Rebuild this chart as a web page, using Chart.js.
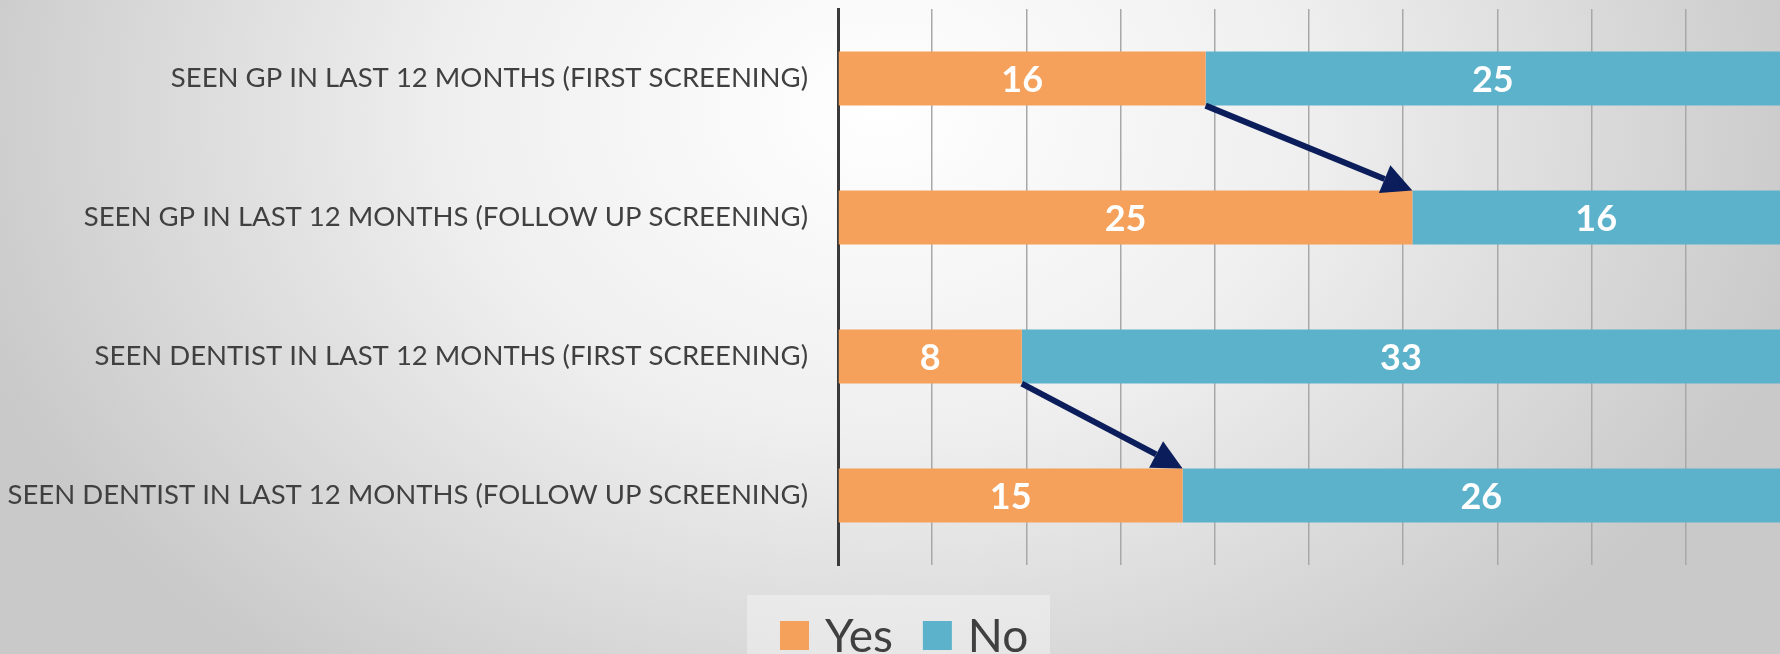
<!DOCTYPE html>
<html>
<head>
<meta charset="utf-8">
<script src="https://cdn.jsdelivr.net/npm/chart.js@4.4.0/dist/chart.umd.min.js"></script>
<style>
  html, body {
    margin: 0;
    padding: 0;
    width: 1780px;
    height: 654px;
    overflow: hidden;
    background: radial-gradient(ellipse 950px 720px at 880px 110px, #ffffff 0%, #efefef 45%, #c9c9c9 100%);
  }
  canvas { display: block; }
</style>
</head>
<body>
<canvas id="chart" width="1780" height="654"></canvas>
<script>
// Categories and counts
const categories = [
    'SEEN GP IN LAST 12 MONTHS (FIRST SCREENING)',
    'SEEN GP IN LAST 12 MONTHS (FOLLOW UP SCREENING)',
    'SEEN DENTIST IN LAST 12 MONTHS (FIRST SCREENING)',
    'SEEN DENTIST IN LAST 12 MONTHS (FOLLOW UP SCREENING)'
];
const yesValues = [16, 25, 8, 15];
const noValues = [25, 16, 33, 26];
const seriesNames = ['Yes', 'No'];

// pairs of rows joined by an arrow (from row -> to row)
const arrowPairs = [[0, 1], [2, 3]];

const ORANGE = '#F5A15B';
const BLUE = '#5CB2CA';
const TEXT = '#404040';
const FONT = 'Lato, "Open Sans", sans-serif';

const total = yesValues[0] + noValues[0];

// white numbers in the middle of every segment
const valueLabels = {
    id: 'valueLabels',
    afterDatasetsDraw(chart) {
        const ctx = chart.ctx;
        ctx.save();
        ctx.fillStyle = '#ffffff';
        ctx.font = 'bold 36px ' + FONT;
        ctx.textAlign = 'center';
        ctx.textBaseline = 'middle';
        chart.data.datasets.forEach(function(ds, di) {
            chart.getDatasetMeta(di).data.forEach(function(bar, i) {
                const p = bar.getCenterPoint();
                ctx.fillText(String(ds.data[i]), p.x, p.y + 2);
            });
        });
        ctx.restore();
    }
};

// navy arrows from the end of one "Yes" bar to the next
const arrows = {
    id: 'arrows',
    afterDatasetsDraw(chart) {
        const ctx = chart.ctx;
        const meta = chart.getDatasetMeta(0);
        ctx.save();
        ctx.strokeStyle = '#0B1E5B';
        ctx.fillStyle = '#0B1E5B';
        ctx.lineWidth = 6;
        arrowPairs.forEach(function(pair) {
            const a = meta.data[pair[0]];
            const b = meta.data[pair[1]];
            const x1 = a.x, y1 = a.y + a.height / 2;
            const x2 = b.x, y2 = b.y - b.height / 2;
            const ang = Math.atan2(y2 - y1, x2 - x1);
            const head = 30;
            const bx = x2 - head * Math.cos(ang);
            const by = y2 - head * Math.sin(ang);
            ctx.beginPath();
            ctx.moveTo(x1, y1);
            ctx.lineTo(bx, by);
            ctx.stroke();
            ctx.beginPath();
            ctx.moveTo(x2, y2);
            ctx.lineTo(bx + 15 * Math.cos(ang + Math.PI / 2), by + 15 * Math.sin(ang + Math.PI / 2));
            ctx.lineTo(bx + 15 * Math.cos(ang - Math.PI / 2), by + 15 * Math.sin(ang - Math.PI / 2));
            ctx.closePath();
            ctx.fill();
        });
        ctx.restore();
    }
};

// legend drawn under the plot, with a pale box behind it
const bottomLegend = {
    id: 'bottomLegend',
    afterDraw(chart) {
        const ctx = chart.ctx;
        ctx.save();
        ctx.fillStyle = 'rgba(255,255,255,0.35)';
        ctx.fillRect(747, 595, 303, 60);
        ctx.font = '46px ' + FONT;
        ctx.textBaseline = 'alphabetic';
        let x = 780;
        chart.data.datasets.forEach(function(ds) {
            ctx.fillStyle = ds.backgroundColor;
            ctx.fillRect(x, 621, 29, 29);
            x += 29 + 16;
            ctx.fillStyle = TEXT;
            ctx.fillText(ds.label, x, 652);
            x += ctx.measureText(ds.label).width + 30;
        });
        ctx.restore();
    }
};

const ctx = document.getElementById('chart').getContext('2d');
new Chart(ctx, {
    type: 'bar',
    data: {
        labels: categories,
        datasets: [
            { label: seriesNames[0], data: yesValues, backgroundColor: ORANGE },
            { label: seriesNames[1], data: noValues, backgroundColor: BLUE }
        ]
    },
    options: {
        indexAxis: 'y',
        responsive: false,
        animation: false,
        devicePixelRatio: 1,
        barPercentage: 0.39,
        categoryPercentage: 1,
        layout: { padding: { top: 9, right: 0, bottom: 89, left: 0 } },
        plugins: {
            legend: { display: false },
            tooltip: { enabled: false }
        },
        scales: {
            x: {
                stacked: true,
                min: 0,
                max: total,
                afterBuildTicks(axis) {
                    const t = [];
                    for (let i = 0; i <= 10; i++) t.push({ value: total * i / 10 });
                    axis.ticks = t;
                },
                ticks: { display: false },
                border: { display: false },
                grid: {
                    drawTicks: false,
                    lineWidth: 1.5,
                    color: function(c) {
                        return (c.index === 0 || c.index === 10) ? 'rgba(0,0,0,0)' : '#a8a8a8';
                    }
                }
            },
            y: {
                stacked: true,
                afterFit(scale) {
                    scale.width = 838;
                    scale.paddingTop = 0;
                    scale.paddingBottom = 0;
                },
                grid: { display: false, drawTicks: false },
                border: { display: true, color: '#3a3a3a', width: 3 },
                ticks: {
                    padding: 30,
                    color: TEXT,
                    font: { family: FONT, size: 27.5 }
                }
            }
        }
    },
    plugins: [valueLabels, arrows, bottomLegend]
});
</script>
</body>
</html>
